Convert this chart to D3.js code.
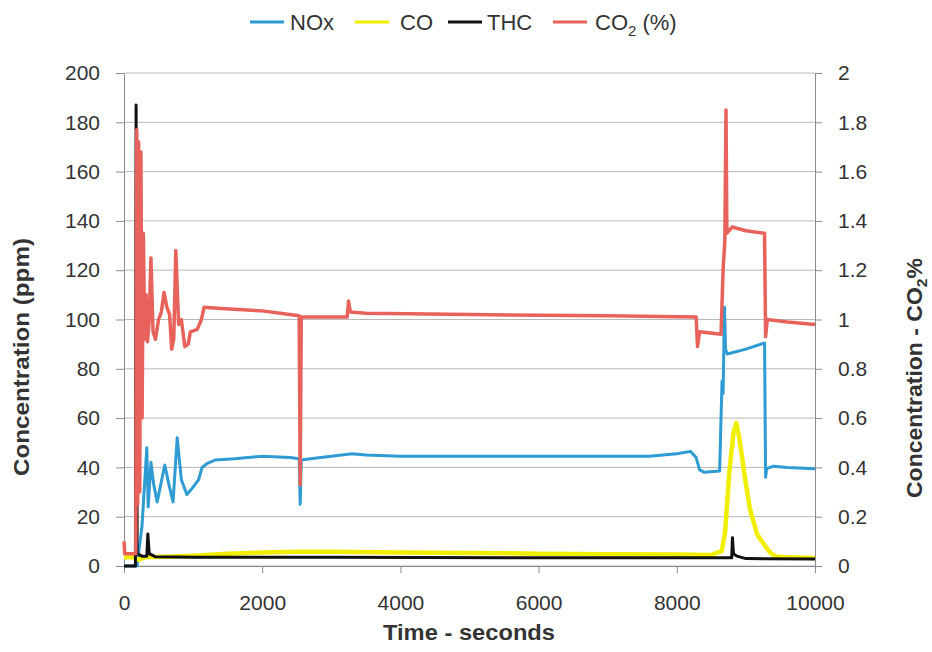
<!DOCTYPE html>
<html><head><meta charset="utf-8">
<script src="https://cdn.jsdelivr.net/npm/d3@7"></script>
<style>
body{margin:0;background:#fff;}
svg{display:block;font-family:"Liberation Sans",Arial,Helvetica,sans-serif;}
</style>
</head><body>
<svg id="chart" width="932" height="652"></svg>
<script>
// ---- data (time in seconds, value) ----
const xTickValues = [0, 2000, 4000, 6000, 8000, 10000];
const leftTickValues = [0, 20, 40, 60, 80, 100, 120, 140, 160, 180, 200];
const rightTickValues = [0, 0.2, 0.4, 0.6, 0.8, 1, 1.2, 1.4, 1.6, 1.8, 2];

// NOx, ppm (left axis)
const noxData = [[0,0],[190,0],[210,5],[260,16],[330,48],[350,24],[390,42],[430,33],[480,26],[590,41],
  [650,33],[710,26],[770,52],[830,35],[910,29],[1000,32],[1080,35],[1130,40],[1200,41.5],[1320,43],
  [1600,43.5],[2000,44.5],[2400,44],[2535,43.5],[2550,25],[2565,43],[2700,43.5],[3000,44.5],[3300,45.5],[3500,45],
  [4000,44.5],[5000,44.5],[6000,44.5],[7000,44.5],[7600,44.5],[8000,45.5],[8200,46.5],[8280,44],[8330,39],[8400,38],
  [8620,38.5],[8640,60],[8655,75],[8670,70],[8690,105],[8705,88],[8730,86],[9000,88],[9270,90.5],[9285,36],
  [9300,39.5],[9400,40.5],[9600,40],[10000,39.5]];

// CO, ppm (left axis)
const coData = [[0,3.5],[150,3.5],[200,2.5],[300,3.5],[600,3.8],[1000,4.2],[1500,5],[2000,5.5],[2500,5.8],[3000,5.8],
  [4000,5.5],[5000,5.3],[6000,5],[7000,4.8],[8000,4.7],[8500,4.5],[8650,6],[8700,14],[8760,38],[8820,54],
  [8860,58],[8910,51],[8990,35],[9060,23],[9160,13],[9280,8],[9350,5.5],[9420,4],[9600,3.5],[10000,3.2]];

// THC, ppm (left axis)
const thcData = [[0,0],[165,0],[175,187],[183,100],[190,5],[260,4],[330,4],[345,13],[365,5],[450,3.8],
  [1000,3.5],[3000,3.5],[6000,3.3],[8000,3.3],[8795,3.3],[8805,11.5],[8820,5],[8870,4],[9000,3],[10000,2.8]];

// CO2, % (right axis)
const co2Data = [[0,0.1],[10,0.05],[170,0.05],[185,1.77],[198,0.25],[212,1.72],[228,0.3],[245,1.68],[262,0.6],[280,1.35],
  [300,0.92],[320,1.1],[340,0.91],[365,1.0],[390,1.25],[420,0.95],[455,0.92],[500,1.0],[540,1.03],[580,1.11],
  [620,1.05],[660,1.02],[690,0.88],[720,0.92],[750,1.28],[790,0.98],[830,1.0],[880,0.89],[930,0.9],[960,0.95],
  [1060,0.96],[1120,1.0],[1160,1.05],[1400,1.045],[2000,1.035],[2400,1.02],[2535,1.015],[2550,0.33],[2565,1.01],[3000,1.01],
  [3230,1.01],[3250,1.075],[3275,1.03],[3500,1.025],[5000,1.02],[7000,1.015],[8280,1.01],[8300,0.89],[8330,0.95],[8640,0.94],
  [8670,1.2],[8695,1.32],[8712,1.85],[8725,1.35],[8800,1.375],[9000,1.36],[9270,1.35],[9285,0.93],[9310,1.0],[9600,0.99],
  [10000,0.98]];

const seriesNames = ["NOx", "CO", "THC", "CO2"];
const seriesColors = ["#2f9bd3", "#f2ee00", "#111111", "#e8625c"];

// ---- layout ----
const svg = d3.select("#chart");
const L = 124, R = 815, T = 73, B = 566;
const x = d3.scaleLinear().domain([0, 10000]).range([L, R]);
const y = d3.scaleLinear().domain([0, 200]).range([B, T]);
const y2 = d3.scaleLinear().domain([0, 2]).range([B, T]);
const textColor = "#333";
const axisColor = "#8c8c8c";

// gridlines
svg.append("g").selectAll("line").data(leftTickValues).join("line")
  .attr("x1", L).attr("x2", R)
  .attr("y1", d => y(d)).attr("y2", d => y(d))
  .attr("stroke", "#b8b8b8").attr("stroke-width", 1);

function styleAxis(g) {
  g.select(".domain").attr("stroke", axisColor);
  g.selectAll(".tick line").attr("stroke", axisColor);
  g.selectAll("text").attr("fill", textColor).style("font-size", "21px");
}

svg.append("g").attr("transform", `translate(${L},0)`)
  .call(d3.axisLeft(y).tickValues(leftTickValues).tickSize(8).tickPadding(16).tickSizeOuter(0))
  .call(styleAxis);

svg.append("g").attr("transform", `translate(${R},0)`)
  .call(d3.axisRight(y2).tickValues(rightTickValues).tickSize(7).tickPadding(16).tickSizeOuter(0)
    .tickFormat(d3.format("")))
  .call(styleAxis);

svg.append("g").attr("transform", `translate(0,${B})`)
  .call(d3.axisBottom(x).tickValues(xTickValues).tickSize(7).tickPadding(22).tickSizeOuter(0)
    .tickFormat(d3.format("d")))
  .call(styleAxis);

// series lines
const lineL = d3.line().x(d => x(d[0])).y(d => y(d[1]));
const lineR = d3.line().x(d => x(d[0])).y(d => y2(d[1]));
const plot = svg.append("g");
plot.append("path").datum(noxData).attr("d", lineL).attr("fill", "none")
  .attr("stroke", seriesColors[0]).attr("stroke-width", 3).attr("stroke-linejoin", "round");
plot.append("path").datum(coData).attr("d", lineL).attr("fill", "none")
  .attr("stroke", seriesColors[1]).attr("stroke-width", 4.5).attr("stroke-linejoin", "round");
plot.append("path").datum(thcData).attr("d", lineL).attr("fill", "none")
  .attr("stroke", seriesColors[2]).attr("stroke-width", 3).attr("stroke-linejoin", "round");
plot.append("path").datum(co2Data).attr("d", lineR).attr("fill", "none")
  .attr("stroke", seriesColors[3]).attr("stroke-width", 3.5).attr("stroke-linejoin", "round");

// axis titles
svg.append("text").attr("x", 469).attr("y", 640).attr("text-anchor", "middle")
  .attr("fill", textColor).style("font-size", "22px").style("font-weight", "bold")
  .attr("textLength", 172).attr("lengthAdjust", "spacingAndGlyphs")
  .text("Time - seconds");

svg.append("text").attr("transform", "translate(29,357) rotate(-90)").attr("text-anchor", "middle")
  .attr("fill", textColor).style("font-size", "22px").style("font-weight", "bold")
  .attr("textLength", 238).attr("lengthAdjust", "spacingAndGlyphs")
  .text("Concentration (ppm)");

const rt = svg.append("text").attr("transform", "translate(922,378) rotate(-90)").attr("text-anchor", "middle")
  .attr("fill", textColor).style("font-size", "22px").style("font-weight", "bold")
  .attr("textLength", 240).attr("lengthAdjust", "spacingAndGlyphs");
rt.append("tspan").text("Concentration - CO");
rt.append("tspan").attr("dy", 5).style("font-size", "15px").text("2");
rt.append("tspan").attr("dy", -5).text("%");

// legend
const legendPos = [[250, 290], [355, 400], [448, 487], [553, 595]];
const leg = svg.append("g");
seriesNames.forEach((name, i) => {
  const [lx, tx] = legendPos[i];
  leg.append("line").attr("x1", lx).attr("x2", lx + 34).attr("y1", 22).attr("y2", 22)
    .attr("stroke", seriesColors[i]).attr("stroke-width", 3);
  const t = leg.append("text").attr("x", tx).attr("y", 30).attr("fill", textColor).style("font-size", "22px");
  if (name === "CO2") {
    t.append("tspan").text("CO");
    t.append("tspan").attr("dy", 6).style("font-size", "15px").text("2");
    t.append("tspan").attr("dy", -6).text(" (%)");
  } else {
    t.text(name);
  }
});
</script>
</body></html>
